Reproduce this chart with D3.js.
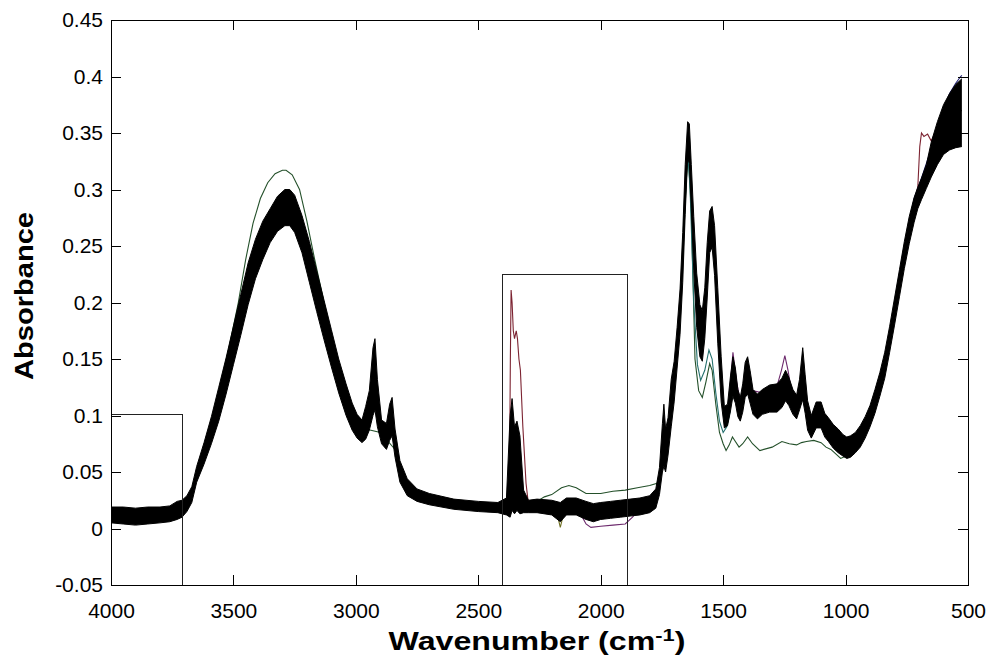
<!DOCTYPE html>
<html>
<head>
<meta charset="utf-8">
<script src="https://cdn.jsdelivr.net/npm/d3@7"></script>
<style>
  html, body { margin: 0; padding: 0; background: #fff; }
  svg { display: block; font-family: Arial, "Liberation Sans", sans-serif; }
</style>
</head>
<body>
<svg id="chart" width="987" height="663"></svg>
<script>
// shared wavenumber grid (cm-1) for the black bundle of spectra
const wavenumber = [
  4000, 3950, 3900, 3850, 3800, 3760, 3730, 3710, 3690, 3670,
  3650, 3620, 3590, 3560, 3530, 3500, 3470, 3440, 3410, 3380,
  3350, 3320, 3290, 3270, 3250, 3220, 3190, 3160, 3130, 3100,
  3070, 3040, 3015, 2995, 2975, 2960, 2945, 2930, 2922, 2912,
  2895, 2875, 2862, 2852, 2840, 2820, 2790, 2750, 2700, 2600,
  2500, 2420, 2385, 2370, 2362, 2352, 2342, 2330, 2315, 2295,
  2260, 2200, 2165, 2140, 2100, 2060, 2030, 2000, 1960, 1920,
  1880, 1840, 1800, 1775, 1760, 1748, 1742, 1735, 1725, 1712,
  1700, 1688, 1676, 1665, 1655, 1645, 1638, 1630, 1620, 1608,
  1595, 1585, 1575, 1565, 1555, 1545, 1535, 1522, 1508, 1495,
  1482, 1470, 1460, 1450, 1440, 1430, 1420, 1410, 1400, 1390,
  1378, 1360, 1340, 1310, 1280, 1260, 1245, 1232, 1215, 1200,
  1188, 1175, 1165, 1155, 1140, 1120, 1100, 1085, 1070, 1050,
  1030, 1010, 995, 980, 960, 940, 920, 900, 880, 860,
  840, 820, 800, 780, 760, 740, 720, 705, 690, 670,
  650, 625, 600, 575, 550, 525
];

// lower edge of the bundle
const bandLow = [
  0.005, 0.004, 0.003, 0.004, 0.005, 0.006, 0.008, 0.010, 0.015, 0.023,
  0.041, 0.057, 0.075, 0.095, 0.119, 0.145, 0.171, 0.198, 0.221, 0.238,
  0.253, 0.263, 0.268, 0.268, 0.262, 0.244, 0.218, 0.192, 0.167, 0.143,
  0.120, 0.100, 0.087, 0.080, 0.076, 0.079, 0.087, 0.100, 0.105, 0.090,
  0.075, 0.070, 0.078, 0.082, 0.063, 0.041, 0.029, 0.024, 0.021, 0.017,
  0.015, 0.014, 0.012, 0.010, 0.016, 0.013, 0.016, 0.013, 0.014, 0.014,
  0.014, 0.012, 0.006, 0.012, 0.012, 0.008, 0.006, 0.008, 0.009, 0.010,
  0.011, 0.012, 0.014, 0.018, 0.030, 0.050, 0.055, 0.050, 0.065, 0.090,
  0.112, 0.142, 0.172, 0.218, 0.278, 0.328, 0.323, 0.283, 0.228, 0.178,
  0.152, 0.148, 0.168, 0.204, 0.244, 0.249, 0.224, 0.164, 0.112, 0.089,
  0.091, 0.104, 0.117, 0.111, 0.099, 0.095, 0.103, 0.116, 0.119, 0.111,
  0.101, 0.097, 0.101, 0.103, 0.103, 0.107, 0.113, 0.109, 0.101, 0.097,
  0.105, 0.114, 0.102, 0.087, 0.080, 0.089, 0.089, 0.081, 0.077, 0.071,
  0.067, 0.064, 0.062, 0.063, 0.067, 0.072, 0.080, 0.090, 0.102, 0.117,
  0.133, 0.156, 0.180, 0.205, 0.230, 0.252, 0.271, 0.283, 0.291, 0.301,
  0.311, 0.322, 0.331, 0.335, 0.337, 0.338
];

// typical trace
const bandMid = [
  0.012, 0.012, 0.011, 0.012, 0.012, 0.013, 0.016, 0.018, 0.022, 0.030,
  0.048, 0.066, 0.087, 0.110, 0.135, 0.162, 0.190, 0.218, 0.240, 0.256,
  0.268, 0.279, 0.285, 0.285, 0.279, 0.260, 0.236, 0.210, 0.184, 0.159,
  0.134, 0.113, 0.098, 0.090, 0.086, 0.092, 0.100, 0.128, 0.135, 0.110,
  0.085, 0.080, 0.092, 0.098, 0.075, 0.050, 0.036, 0.030, 0.027, 0.022,
  0.020, 0.019, 0.020, 0.060, 0.075, 0.065, 0.070, 0.045, 0.025, 0.020,
  0.020, 0.019, 0.014, 0.020, 0.020, 0.016, 0.014, 0.016, 0.017, 0.018,
  0.019, 0.020, 0.022, 0.027, 0.040, 0.070, 0.085, 0.065, 0.080, 0.110,
  0.130, 0.160, 0.190, 0.240, 0.300, 0.345, 0.340, 0.300, 0.250, 0.200,
  0.175, 0.170, 0.190, 0.230, 0.265, 0.270, 0.250, 0.190, 0.130, 0.098,
  0.100, 0.118, 0.132, 0.125, 0.110, 0.105, 0.115, 0.130, 0.135, 0.125,
  0.112, 0.108, 0.112, 0.115, 0.115, 0.120, 0.128, 0.122, 0.112, 0.108,
  0.118, 0.135, 0.118, 0.100, 0.090, 0.100, 0.100, 0.092, 0.088, 0.082,
  0.077, 0.073, 0.071, 0.072, 0.075, 0.081, 0.089, 0.099, 0.112, 0.127,
  0.144, 0.167, 0.192, 0.217, 0.242, 0.264, 0.282, 0.292, 0.300, 0.311,
  0.325, 0.340, 0.352, 0.360, 0.366, 0.370
];

// upper edge of the bundle
const bandHigh = [
  0.019, 0.019, 0.018, 0.019, 0.019, 0.020, 0.024, 0.025, 0.029, 0.037,
  0.055, 0.076, 0.099, 0.125, 0.151, 0.179, 0.207, 0.235, 0.256, 0.272,
  0.283, 0.294, 0.300, 0.300, 0.295, 0.277, 0.254, 0.228, 0.202, 0.176,
  0.150, 0.128, 0.111, 0.101, 0.096, 0.108, 0.122, 0.160, 0.168, 0.132,
  0.096, 0.093, 0.110, 0.116, 0.088, 0.060, 0.044, 0.035, 0.031, 0.026,
  0.024, 0.023, 0.027, 0.100, 0.115, 0.090, 0.095, 0.082, 0.034, 0.025,
  0.026, 0.025, 0.023, 0.027, 0.027, 0.024, 0.022, 0.023, 0.024, 0.025,
  0.026, 0.027, 0.029, 0.035, 0.054, 0.093, 0.110, 0.088, 0.098, 0.132,
  0.148, 0.178, 0.212, 0.262, 0.322, 0.360, 0.358, 0.322, 0.276, 0.226,
  0.198, 0.193, 0.213, 0.253, 0.281, 0.285, 0.268, 0.213, 0.152, 0.108,
  0.110, 0.135, 0.152, 0.142, 0.123, 0.116, 0.128, 0.147, 0.152, 0.140,
  0.123, 0.119, 0.123, 0.127, 0.128, 0.133, 0.140, 0.134, 0.123, 0.118,
  0.132, 0.160, 0.136, 0.113, 0.100, 0.112, 0.112, 0.102, 0.098, 0.092,
  0.088, 0.083, 0.081, 0.082, 0.085, 0.091, 0.099, 0.109, 0.123, 0.138,
  0.156, 0.179, 0.204, 0.229, 0.254, 0.276, 0.293, 0.302, 0.310, 0.322,
  0.342, 0.360, 0.375, 0.385, 0.393, 0.398
];

// outlying spectra, [wavenumber, absorbance]
const greenTrace = [
  [3990, 0.012], [3800, 0.012], [3740, 0.015], [3700, 0.022], [3670, 0.035], [3640, 0.055], [3600, 0.088], [3560, 0.120], [3520, 0.158], [3480, 0.200],
  [3450, 0.238], [3420, 0.270], [3390, 0.292], [3360, 0.306], [3330, 0.314], [3300, 0.317], [3285, 0.317], [3260, 0.313], [3230, 0.300], [3200, 0.272],
  [3170, 0.240], [3140, 0.210], [3110, 0.180], [3080, 0.150], [3050, 0.125], [3020, 0.102], [2990, 0.090], [2960, 0.088], [2900, 0.085], [2840, 0.070],
  [2800, 0.040], [2700, 0.026], [2600, 0.022], [2450, 0.020], [2350, 0.020], [2290, 0.020], [2260, 0.024], [2230, 0.028], [2200, 0.030], [2160, 0.036],
  [2130, 0.038], [2100, 0.036], [2060, 0.031], [2000, 0.031], [1950, 0.033], [1900, 0.034], [1850, 0.036], [1800, 0.038], [1770, 0.040], [1755, 0.050],
  [1740, 0.080], [1720, 0.095], [1700, 0.130], [1680, 0.180], [1665, 0.240], [1650, 0.310], [1642, 0.330], [1630, 0.280], [1615, 0.150], [1600, 0.122],
  [1585, 0.116], [1570, 0.130], [1555, 0.146], [1545, 0.140], [1530, 0.110], [1515, 0.085], [1500, 0.075], [1488, 0.069], [1475, 0.074], [1462, 0.081],
  [1450, 0.077], [1435, 0.072], [1420, 0.075], [1400, 0.081], [1380, 0.075], [1350, 0.069], [1300, 0.072], [1260, 0.077], [1230, 0.075], [1200, 0.074],
  [1180, 0.076], [1160, 0.077], [1130, 0.078], [1100, 0.076], [1080, 0.072], [1060, 0.070], [1040, 0.066], [1020, 0.062], [1000, 0.064], [980, 0.066]
];
const tealTrace = [
  [1700, 0.130], [1676, 0.190], [1660, 0.270], [1645, 0.335], [1635, 0.300], [1620, 0.200], [1605, 0.145], [1592, 0.131],
  [1575, 0.140], [1558, 0.158], [1545, 0.150], [1530, 0.120], [1515, 0.095], [1500, 0.085], [1485, 0.090], [1470, 0.105]
];
const maroonCO2 = [
  [2440, 0.020], [2385, 0.020], [2373, 0.030], [2369, 0.150], [2366, 0.211], [2362, 0.200], [2357, 0.175], [2352, 0.168],
  [2345, 0.175], [2340, 0.168], [2334, 0.150], [2328, 0.140], [2318, 0.090], [2305, 0.040], [2297, 0.025], [2280, 0.020]
];
const maroonTail = [
  [760, 0.245], [720, 0.288], [705, 0.302], [697, 0.338], [690, 0.350], [680, 0.347], [665, 0.349], [650, 0.343], [635, 0.350]
];
const purpleDip = [
  [2150, 0.018], [2100, 0.015], [2075, 0.010], [2060, 0.004], [2040, 0.001], [2000, 0.002], [1950, 0.003], [1900, 0.004], [1870, 0.010], [1840, 0.018]
];
const purpleAmide = [
  [1500, 0.100], [1480, 0.102], [1460, 0.156], [1445, 0.130], [1430, 0.112], [1400, 0.140], [1380, 0.122], [1340, 0.120], [1300, 0.120], [1280, 0.126],
  [1262, 0.140], [1248, 0.153], [1235, 0.140], [1220, 0.120], [1200, 0.110]
];
const navyTail = [
  [800, 0.200], [760, 0.250], [720, 0.292], [690, 0.310], [650, 0.336], [620, 0.358], [600, 0.372], [575, 0.385], [550, 0.394], [530, 0.400], [525, 0.401]
];
const oliveTrace = [
  [2390, 0.018], [2372, 0.030], [2366, 0.090], [2360, 0.070], [2355, 0.085], [2350, 0.060], [2344, 0.075], [2338, 0.050], [2325, 0.030], [2300, 0.020],
  [2200, 0.016], [2175, 0.010], [2165, 0.001], [2155, 0.010], [2130, 0.016]
];

const outliers = [
  {name: 'green', color: '#24502a', points: greenTrace},
  {name: 'teal', color: '#25706e', points: tealTrace},
  {name: 'maroon-co2', color: '#7c2331', points: maroonCO2},
  {name: 'maroon-tail', color: '#7c2331', points: maroonTail},
  {name: 'purple-dip', color: '#6d2a6d', points: purpleDip},
  {name: 'purple-amide', color: '#6d2a6d', points: purpleAmide},
  {name: 'navy', color: '#1f1f72', points: navyTail},
  {name: 'olive', color: '#707024', points: oliveTrace}
];

// axes
const xTicks = [4000, 3500, 3000, 2500, 2000, 1500, 1000, 500];
const yTicks = [-0.05, 0, 0.05, 0.1, 0.15, 0.2, 0.25, 0.3, 0.35, 0.4, 0.45];
const yTickLabels = ['-0.05', '0', '0.05', '0.1', '0.15', '0.2', '0.25', '0.3', '0.35', '0.4', '0.45'];

// the two marked spectral windows
const boxFrom = [3997, 2400];
const boxTo = [3710, 1890];
const boxTop = [0.101, 0.225];

let svg = d3.select('#chart');
let margin = {top: 20, right: 19, bottom: 78, left: 111};
let width = 987 - margin.left - margin.right;
let height = 663 - margin.top - margin.bottom;

let x = d3.scaleLinear().domain([4000, 500]).range([0, width]);
let y = d3.scaleLinear().domain([-0.05, 0.45]).range([height, 0]);

let g = svg.append('g').attr('transform', `translate(${margin.left},${margin.top})`);

let line = d3.line()
  .x(d => x(d[0]))
  .y(d => y(d[1]));

// colored outliers underneath the bundle
g.selectAll('.outlier')
  .data(outliers)
  .enter()
  .append('path')
  .attr('class', 'outlier')
  .attr('fill', 'none')
  .attr('stroke', d => d.color)
  .attr('stroke-width', 1.1)
  .attr('d', d => line(d.points));

let band = wavenumber.map((w, i) => ({w: w, lo: bandLow[i], mid: bandMid[i], hi: bandHigh[i]}));

g.append('path')
  .datum(band)
  .attr('fill', '#000')
  .attr('d', d3.area()
    .x(d => x(d.w))
    .y0(d => y(d.lo))
    .y1(d => y(d.hi)));

['lo', 'mid', 'hi'].forEach(k => {
  g.append('path')
    .datum(band)
    .attr('fill', 'none')
    .attr('stroke', '#000')
    .attr('stroke-width', 1)
    .attr('d', d3.line().x(d => x(d.w)).y(d => y(d[k])));
});

// rectangles
g.selectAll('.box')
  .data(boxFrom)
  .enter()
  .append('rect')
  .attr('class', 'box')
  .attr('x', (d, i) => x(d))
  .attr('y', (d, i) => y(boxTop[i]))
  .attr('width', (d, i) => x(boxTo[i]) - x(d))
  .attr('height', (d, i) => y(-0.05) - y(boxTop[i]))
  .attr('fill', 'none')
  .attr('stroke', '#222')
  .attr('stroke-width', 1)
  .attr('shape-rendering', 'crispEdges');

// axes, ticks pointing inward on all four sides
let fmtY = v => yTickLabels[yTicks.indexOf(v)];

g.append('g')
  .attr('transform', `translate(0,${height})`)
  .call(d3.axisBottom(x).tickValues(xTicks).tickFormat(d3.format('d')).tickSizeInner(-10).tickSizeOuter(0).tickPadding(18));
g.append('g')
  .call(d3.axisLeft(y).tickValues(yTicks).tickFormat(fmtY).tickSizeInner(-10).tickSizeOuter(0).tickPadding(8));
g.append('g')
  .call(d3.axisTop(x).tickValues(xTicks).tickFormat('').tickSizeInner(-10).tickSizeOuter(0));
g.append('g')
  .attr('transform', `translate(${width},0)`)
  .call(d3.axisRight(y).tickValues(yTicks).tickFormat('').tickSizeInner(-10).tickSizeOuter(0));

g.selectAll('.domain, .tick line')
  .attr('stroke', '#000')
  .attr('stroke-width', 1)
  .attr('shape-rendering', 'crispEdges');
g.selectAll('.tick text')
  .attr('fill', '#000')
  .style('font-size', '21px')
  .style('font-family', 'Arial, "Liberation Sans", sans-serif');

// axis titles
svg.append('text')
  .attr('text-anchor', 'middle')
  .attr('transform', 'translate(33,296) rotate(-90)')
  .style('font-size', '25px')
  .style('font-weight', 'bold')
  .attr('textLength', 168)
  .attr('lengthAdjust', 'spacingAndGlyphs')
  .text('Absorbance');

let xTitle = svg.append('text')
  .attr('x', 537)
  .attr('y', 650)
  .attr('text-anchor', 'middle')
  .style('font-size', '25px')
  .style('font-weight', 'bold');
xTitle.append('tspan').text('Wavenumber (cm');
xTitle.append('tspan').attr('dy', -9).style('font-size', '17px').text('-1');
xTitle.append('tspan').attr('dy', 9).text(')');
let bb = xTitle.node().getBBox();
let sx = 297 / bb.width;
xTitle.attr('transform', `translate(537,0) scale(${sx},1) translate(-537,0)`);
</script>
</body>
</html>
